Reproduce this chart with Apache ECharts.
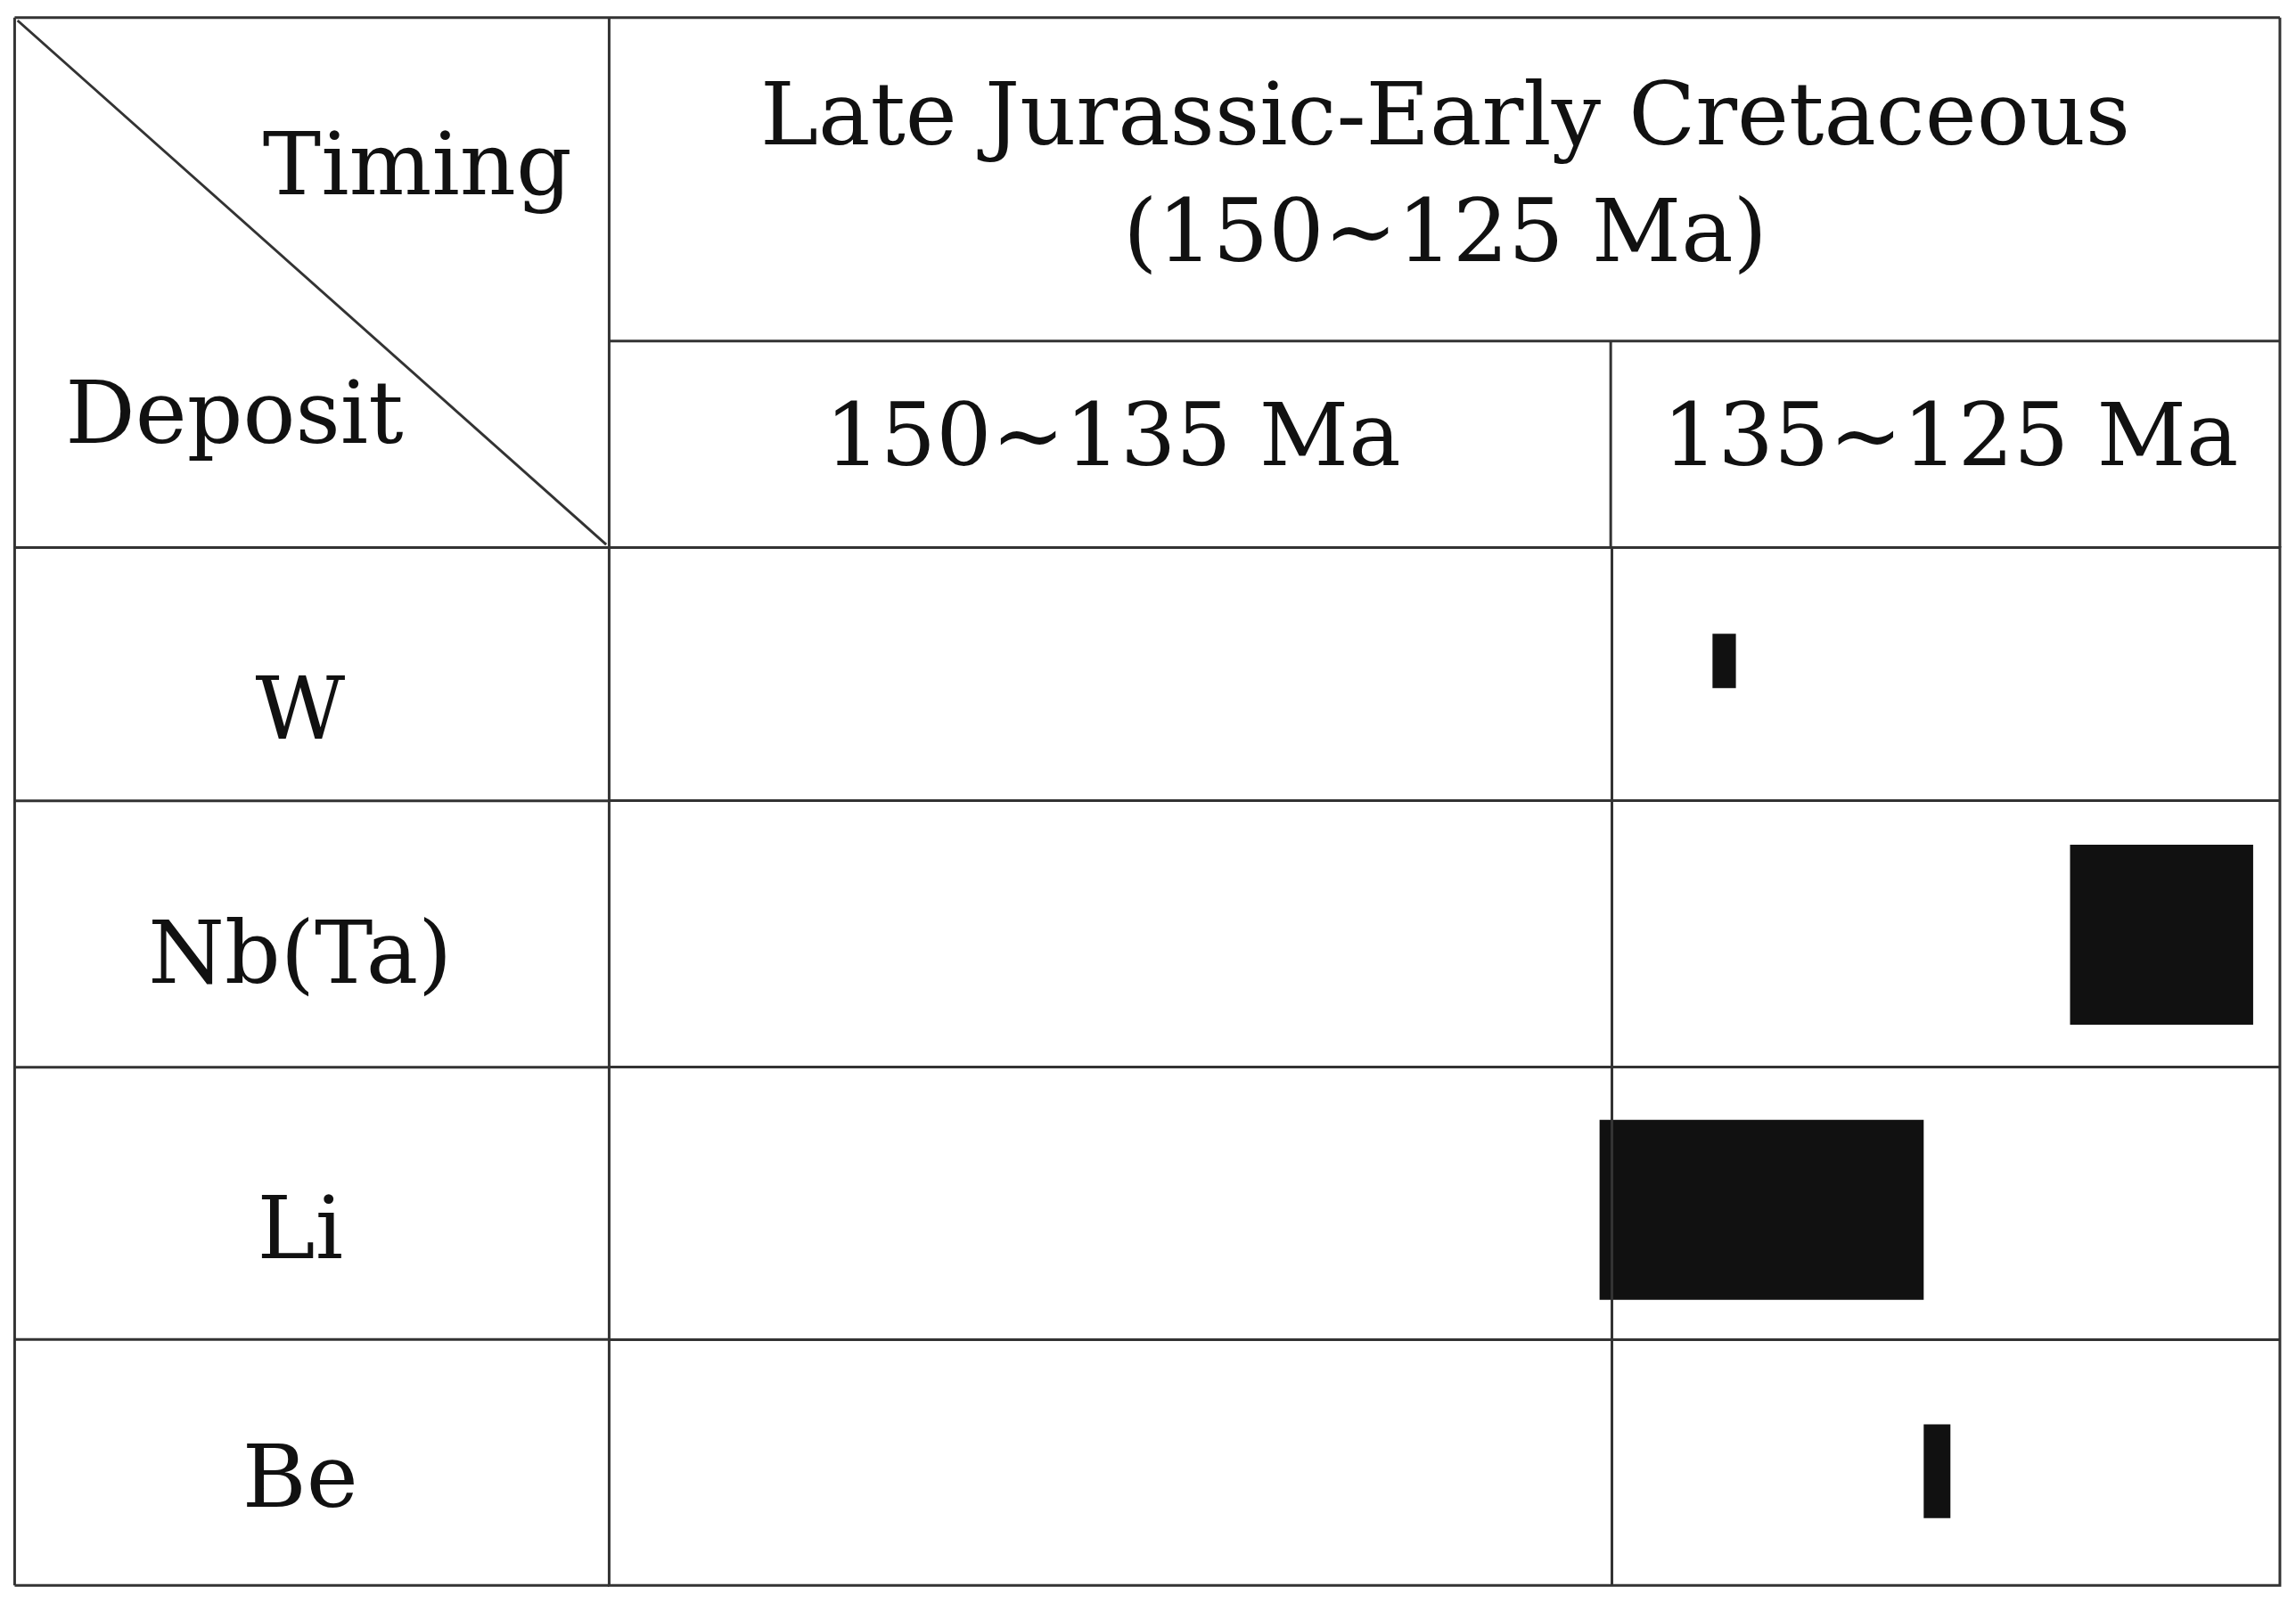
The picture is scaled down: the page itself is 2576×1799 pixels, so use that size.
<!DOCTYPE html>
<html>
<head>
<meta charset="utf-8">
<script src="https://cdn.jsdelivr.net/npm/echarts@6/dist/echarts.min.js"></script>
<style>html,body{margin:0;padding:0;background:#fff;}#main{width:2576px;height:1799px;}</style>
</head>
<body>
<div id="main"></div>
<script>
// 行名称
var deposits = ['W', 'Nb(Ta)', 'Li', 'Be'];
// 年龄区间 (Ma): 开始, 结束
var ageStart = [133.49, 128.14, 135.18, 130.33];
var ageEnd = [133.14, 125.40, 130.33, 129.93];
// 纵向位置 (行内单位): 上, 下
var barTop = [59, 203, 391, 599];
var barBottom = [96, 326, 514, 663];
// 行分界
var rowLines = [173, 355, 541];
var rowCenters = [111, 278, 466, 636];
var periodSplit = 135;

var s = 2576 / 1568;
var chart = echarts.init(document.getElementById('main'));
var font = '"DejaVu Serif", "Liberation Serif", serif';
var lineColor = '#333';

function txt(str, x, y, size) {
    return {type: 'text', x: x * s, y: y * s,
        style: {text: str, font: (size || 98) + 'px ' + font, fill: '#111', align: 'center', verticalAlign: 'middle'}};
}
function ln(x1, y1, x2, y2) {
    return {type: 'line', shape: {x1: x1 * s, y1: y1 * s, x2: x2 * s, y2: y2 * s}, style: {stroke: lineColor, lineWidth: 3}};
}

var data = [];
for (var i = 0; i < deposits.length; i++) {
    data.push([ageStart[i], ageEnd[i], barTop[i], barBottom[i]]);
}

var markData = [];
rowLines.forEach(function (v) { markData.push({yAxis: v}); });
markData.push({xAxis: periodSplit});

// 左列的行线
var leftLines = rowLines.map(function (v) { return ln(10, 374 + v, 416, 374 + v); });

var option = {
    animation: false,
    backgroundColor: '#fff',
    grid: {left: 416 * s, top: 374 * s, width: (1557 - 416) * s, height: 709 * s,
        show: true, borderColor: lineColor, borderWidth: 3},
    xAxis: {type: 'value', min: 125, max: 150, inverse: true, show: false},
    yAxis: {type: 'value', min: 0, max: 709, inverse: true, show: false},
    series: [{
        type: 'custom',
        renderItem: function (params, api) {
            var p1 = api.coord([api.value(0), api.value(2)]);
            var p2 = api.coord([api.value(1), api.value(3)]);
            return {type: 'rect', shape: {x: p1[0], y: p1[1], width: p2[0] - p1[0], height: p2[1] - p1[1]},
                style: {fill: '#111'}};
        },
        encode: {x: [0, 1], y: [2, 3]},
        data: data,
        markLine: {silent: true, symbol: 'none', label: {show: false},
            lineStyle: {color: lineColor, width: 3, type: 'solid'}, data: markData}
    }],
    graphic: [
        ln(10, 12, 1557, 12), ln(10, 12, 10, 1083), ln(10, 1083, 416, 1083),
        ln(10, 374, 416, 374), ln(416, 12, 416, 374), ln(1557, 12, 1557, 374),
        ln(416, 233, 1557, 233), ln(1100, 233, 1100, 374),
        ln(12, 14, 414, 372),
        txt('Late Jurassic-Early Cretaceous', 987, 83),
        txt('(150~125 Ma)', 987, 163),
        txt('Timing', 285, 117),
        txt('Deposit', 160, 287),
        txt('150~135 Ma', 760, 302),
        txt('135~125 Ma', 1332, 302)
    ].concat(leftLines)
     .concat(deposits.map(function (d, i) { return txt(d, 205, 374 + rowCenters[i] + 4); }))
};
chart.setOption(option);
</script>
</body>
</html>
